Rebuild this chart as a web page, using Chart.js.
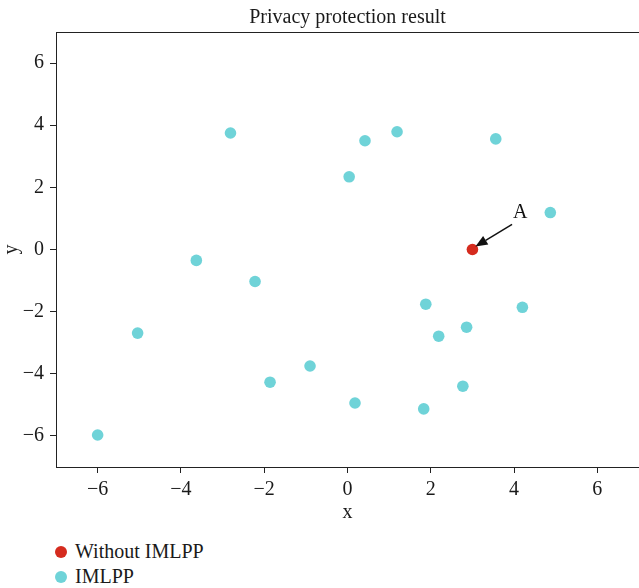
<!DOCTYPE html>
<html>
<head>
<meta charset="utf-8">
<script src="https://cdn.jsdelivr.net/npm/chart.js@4/dist/chart.umd.min.js"></script>
<style>
    body { margin: 0; background: #fff; }
    #wrap { position: relative; width: 639px; height: 588px; }
    #legend { position: absolute; left: 55px; top: 539px; font-family: 'Liberation Serif', serif; font-size: 20px; color: #1a1a1a; }
    #legend div { height: 25px; line-height: 25px; }
    #legend span.dot { display: inline-block; width: 12px; height: 12px; border-radius: 50%; margin-right: 8px; vertical-align: 0px; }
</style>
</head>
<body>
<div id="wrap">
    <canvas id="chart" width="639" height="525"></canvas>
    <div id="legend"></div>
</div>
<script>
// Data
const baseLabel = 'Without IMLPP';
const baseX = [3];
const baseY = [0];

const imlppLabel = 'IMLPP';
const imlppX = [-2.81, 0.42, 1.19, 3.56, 0.04, 4.87, -3.63, -2.22, 1.88, 4.20, -5.04, 2.86, 2.19, -0.90, -1.86, 2.77, 0.18, 1.83, -6.0];
const imlppY = [3.75, 3.50, 3.79, 3.56, 2.34, 1.19, -0.35, -1.03, -1.76, -1.86, -2.69, -2.50, -2.79, -3.75, -4.27, -4.40, -4.94, -5.13, -5.97];

const xTicks = [-6, -4, -2, 0, 2, 4, 6];
const yTicks = [-6, -4, -2, 0, 2, 4, 6];

// annotation: text at (4, 1) pointing at (3, 0)
const noteText = 'A';
const noteFrom = [4, 1];
const noteTo = [3, 0];

const titleText = 'Privacy protection result';
const serif = "'Liberation Serif', 'DejaVu Serif', serif";
const ink = '#1a1a1a';
const red = '#d52b1e';
const cyan = '#6fd3d8';

const toPoints = (xs, ys) => xs.map((x, i) => ({ x: x, y: ys[i] }));
const minus = v => String(v).replace('-', '\u2212');

// frame (right edge falls off the canvas) + title centred over the plot area
const frame = {
    id: 'frame',
    afterDraw(chart) {
        const { ctx, chartArea: a } = chart;
        ctx.save();
        ctx.strokeStyle = '#222';
        ctx.lineWidth = 1;
        ctx.strokeRect(a.left + 0.5, a.top + 0.5, a.right - a.left, a.bottom - a.top);
        ctx.font = '20px ' + serif;
        ctx.fillStyle = ink;
        ctx.textAlign = 'center';
        ctx.textBaseline = 'alphabetic';
        ctx.fillText(titleText, (a.left + a.right) / 2, 23);
        ctx.restore();
    }
};

const note = {
    id: 'note',
    afterDatasetsDraw(chart) {
        const { ctx, scales } = chart;
        const tx = scales.x.getPixelForValue(noteFrom[0]);
        const ty = scales.y.getPixelForValue(noteFrom[1]);
        const px = scales.x.getPixelForValue(noteTo[0]);
        const py = scales.y.getPixelForValue(noteTo[1]);

        ctx.save();
        ctx.font = '20px ' + serif;
        ctx.fillStyle = '#111';
        ctx.textAlign = 'left';
        ctx.textBaseline = 'alphabetic';
        ctx.fillText(noteText, tx - 1, ty);

        // arrow from below the text to the point
        const sx = tx - 2, sy = ty + 6;
        const ex = px + 3, ey = py - 3;
        const ang = Math.atan2(ey - sy, ex - sx);
        const head = 12, half = 5;
        const bx = ex - head * Math.cos(ang), by = ey - head * Math.sin(ang);
        ctx.strokeStyle = '#111';
        ctx.lineWidth = 1.5;
        ctx.beginPath();
        ctx.moveTo(sx, sy);
        ctx.lineTo(bx, by);
        ctx.stroke();
        ctx.beginPath();
        ctx.moveTo(ex, ey);
        ctx.lineTo(bx + half * Math.sin(ang), by - half * Math.cos(ang));
        ctx.lineTo(bx - half * Math.sin(ang), by + half * Math.cos(ang));
        ctx.closePath();
        ctx.fill();
        ctx.restore();
    }
};

const axisCommon = {
    min: -7,
    max: 7,
    border: { display: true, color: '#222', width: 1 },
    grid: { drawOnChartArea: false, drawTicks: true, tickLength: 6, color: '#222' },
};

const noPad = s => { s.paddingLeft = 0; s.paddingRight = 0; s.paddingTop = 0; s.paddingBottom = 0; };

const chart = new Chart(document.getElementById('chart'), {
    type: 'scatter',
    data: {
        datasets: [
            {
                label: imlppLabel,
                data: toPoints(imlppX, imlppY),
                backgroundColor: cyan,
                borderWidth: 0,
                pointRadius: 5.8,
                order: 2
            },
            {
                label: baseLabel,
                data: toPoints(baseX, baseY),
                backgroundColor: red,
                borderWidth: 0,
                pointRadius: 5.8,
                order: 1
            }
        ]
    },
    options: {
        responsive: false,
        animation: false,
        layout: { autoPadding: false, padding: { left: 0, right: 0, top: 32, bottom: 0 } },
        plugins: {
            legend: { display: false },
            tooltip: { enabled: false },
            title: { display: false }
        },
        scales: {
            x: {
                ...axisCommon,
                type: 'linear',
                position: 'bottom',
                afterBuildTicks: s => { s.ticks = xTicks.map(v => ({ value: v })); },
                afterFit: s => { s.height = 58; noPad(s); },
                ticks: {
                    color: ink,
                    padding: 5,
                    font: { family: serif, size: 20 },
                    callback: v => minus(v)
                },
                title: {
                    display: true,
                    text: 'x',
                    color: ink,
                    font: { family: serif, size: 20 },
                    padding: { top: 0, bottom: 0 }
                }
            },
            y: {
                ...axisCommon,
                type: 'linear',
                position: 'left',
                afterBuildTicks: s => { s.ticks = yTicks.map(v => ({ value: v })); },
                afterFit: s => { s.width = 56; noPad(s); },
                ticks: {
                    color: ink,
                    padding: 6,
                    font: { family: serif, size: 20 },
                    callback: v => minus(v)
                },
                title: {
                    display: true,
                    text: 'y',
                    color: ink,
                    font: { family: serif, size: 20 },
                    padding: { top: 0, bottom: 0 }
                }
            }
        }
    },
    plugins: [frame, note]
});

// legend below the chart, in the order of the reference
const legend = document.getElementById('legend');
[[baseLabel, red], [imlppLabel, cyan]].forEach(([label, color]) => {
    const row = document.createElement('div');
    row.innerHTML = '<span class="dot" style="background:' + color + '"></span>' + label;
    legend.appendChild(row);
});
</script>
</body>
</html>
